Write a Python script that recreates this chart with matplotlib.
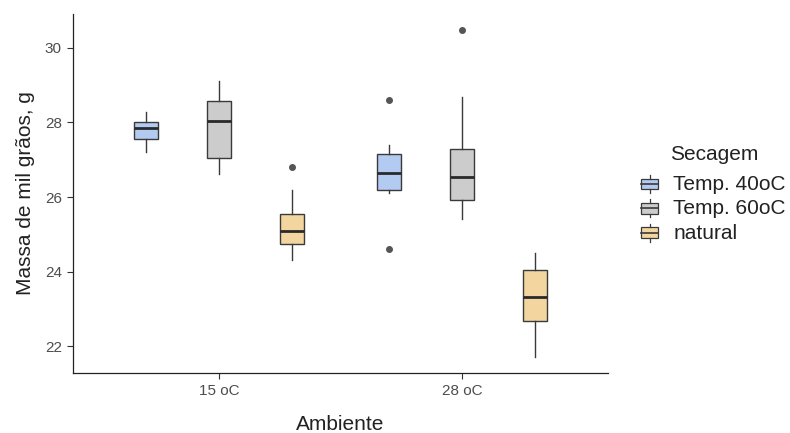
import numpy as np
import matplotlib.pyplot as plt
from matplotlib.legend_handler import HandlerBase
from matplotlib.patches import Rectangle
from matplotlib.lines import Line2D

plt.rcParams['font.family'] = ['Liberation Sans', 'DejaVu Sans']

ambientes = ["15 oC", "28 oC"]
secagem = ["Temp. 40oC", "Temp. 60oC", "natural"]
cores = ["#B3CAF1", "#CCCCCC", "#F2D59F"]

# estatisticas: [whislo, q1, med, q3, whishi], outliers
stats = {
    ("15 oC", "Temp. 40oC"): ([27.20, 27.56, 27.84, 28.02, 28.29], []),
    ("15 oC", "Temp. 60oC"): ([26.61, 27.04, 28.05, 28.58, 29.10], []),
    ("15 oC", "natural"):    ([24.31, 24.75, 25.10, 25.54, 26.19], [26.80]),
    ("28 oC", "Temp. 40oC"): ([26.12, 26.19, 26.64, 27.15, 27.39], [28.60, 24.60]),
    ("28 oC", "Temp. 60oC"): ([25.41, 25.92, 26.55, 27.30, 28.68], [30.48]),
    ("28 oC", "natural"):    ([21.71, 22.67, 23.32, 24.04, 24.49], []),
}

fig = plt.figure(figsize=(7.9, 4.33), dpi=100)
ax = fig.add_axes([0.0924, 0.1386, 0.6772, 0.8291])

edge = "#3A3A3A"
for i, amb in enumerate(ambientes):
    for j, sec in enumerate(secagem):
        s, fl = stats[(amb, sec)]
        d = dict(whislo=s[0], q1=s[1], med=s[2], q3=s[3], whishi=s[4], fliers=fl)
        pos = i + 1 + (j - 1) * 0.3
        ax.bxp([d], positions=[pos], widths=0.1, patch_artist=True, showcaps=False,
               boxprops=dict(facecolor=cores[j], edgecolor=edge, linewidth=1.0),
               whiskerprops=dict(color=edge, linewidth=1.0),
               medianprops=dict(color="#2A2A2A", linewidth=2.0),
               flierprops=dict(marker="o", markerfacecolor="#555555", markeredgecolor="#555555",
                               markersize=4))

ax.set_xlim(0.4, 2.6)
ax.set_ylim(21.28, 30.91)
ax.set_xticks([1, 2])
ax.set_xticklabels(ambientes)
ax.set_yticks([22, 24, 26, 28, 30])
ax.tick_params(colors="#333333", labelsize=11, length=4, width=0.8, labelcolor="#4D4D4D", pad=4)
for sp in ["top", "right"]:
    ax.spines[sp].set_visible(False)
for sp in ["left", "bottom"]:
    ax.spines[sp].set_linewidth(0.9)
    ax.spines[sp].set_color("#222222")
ax.set_xlabel("Ambiente", fontsize=15, color="#222222", labelpad=12)
ax.set_ylabel("Massa de mil grãos, g", fontsize=15, color="#222222", labelpad=7)


class BoxKey(HandlerBase):
    def create_artists(self, legend, orig, xd, yd, w, h, fontsize, trans):
        cx = xd + w / 2
        y0 = yd + h * 0.3
        r = Rectangle((xd, y0), w, h,
                      facecolor=orig.get_facecolor(), edgecolor=edge, linewidth=0.9,
                      transform=trans)
        l1 = Line2D([cx, cx], [y0 - h * 0.35, y0], color=edge, lw=0.9, transform=trans)
        l2 = Line2D([cx, cx], [y0 + h, y0 + h * 1.35], color=edge, lw=0.9, transform=trans)
        m = Line2D([xd, xd + w], [y0 + h / 2, y0 + h / 2], color=edge, lw=1.2,
                   transform=trans)
        return [r, l1, l2, m]


handles = [Rectangle((0, 0), 1, 1, facecolor=c) for c in cores]
leg = fig.legend(handles, secagem, handler_map={Rectangle: BoxKey()},
                 loc="center left", bbox_to_anchor=(0.812, 1 - 209 / 433), frameon=False,
                 fontsize=15, handlelength=0.77, handleheight=0.4, handletextpad=0.75,
                 labelspacing=0.26, borderaxespad=0, borderpad=0)
for t in leg.get_texts():
    t.set_color("#222222")
fig.text(670 / 790, 1 - 155 / 433, "Secagem", fontsize=15, color="#222222",
         ha="left", va="center")

fig.savefig("out.png", dpi=100)
